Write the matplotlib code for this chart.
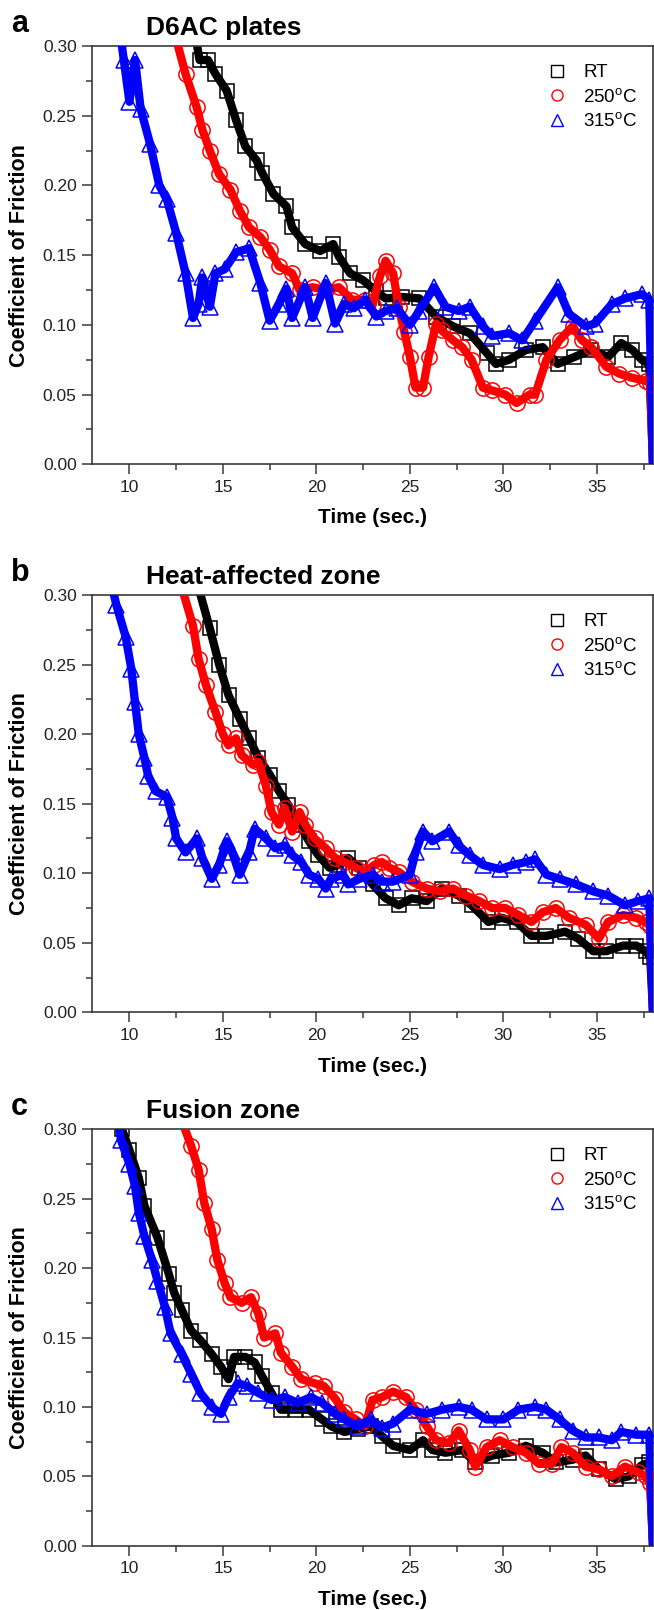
import matplotlib
matplotlib.use("Agg")
import matplotlib.pyplot as plt
import matplotlib.transforms as mtransforms
from matplotlib.ticker import MultipleLocator, FormatStrFormatter

plt.rcParams['font.family'] = ['Liberation Sans', 'DejaVu Sans']
plt.rcParams['mathtext.default'] = 'regular'

# ---- panel a : D6AC plates ----
a_rt_t = [13.5, 13.75, 14.2, 14.6, 15.2, 15.7, 16.2, 16.8, 17.1, 17.7, 18.4, 18.7, 19.4, 20.2, 20.9, 21.2,
          21.8, 22.5, 23.2, 23.7, 24.6, 25.5, 26.4, 27.3, 28.2, 29.1, 29.6, 30.3, 31.2, 32.1, 32.9, 33.8,
          34.7, 35.6, 36.3, 36.9, 37.4, 37.8, 38.0]
a_rt_y = [0.31, 0.29, 0.29, 0.28, 0.268, 0.247, 0.228, 0.218, 0.209, 0.194, 0.185, 0.17, 0.158, 0.153, 0.158,
          0.149, 0.137, 0.132, 0.124, 0.119, 0.12, 0.119, 0.106, 0.099, 0.094, 0.08, 0.072, 0.075, 0.082,
          0.084, 0.072, 0.077, 0.082, 0.077, 0.087, 0.082, 0.075, 0.072, 0.0]
a_250_t = [12.4, 13.0, 13.6, 13.9, 14.3, 14.8, 15.4, 15.9, 16.4, 17.0, 17.5, 18.0, 18.7, 19.1, 19.8, 20.5,
           21.2, 21.9, 22.6, 23.0, 23.4, 23.7, 24.1, 24.4, 24.7, 25.0, 25.3, 25.7, 26.0, 26.4, 26.7, 27.3,
           27.8, 28.3, 28.9, 29.4, 30.1, 30.7, 31.4, 31.7, 32.3, 33.0, 33.7, 34.2, 34.7, 35.5, 36.2, 36.9,
           37.6, 37.85, 38.0]
a_250_y = [0.31, 0.28, 0.256, 0.24, 0.225, 0.208, 0.197, 0.182, 0.17, 0.163, 0.154, 0.142, 0.137, 0.125,
           0.127, 0.125, 0.127, 0.118, 0.118, 0.114, 0.135, 0.146, 0.137, 0.113, 0.095, 0.077, 0.055, 0.055,
           0.077, 0.101, 0.096, 0.089, 0.084, 0.075, 0.055, 0.053, 0.05, 0.044, 0.05, 0.05, 0.075, 0.089,
           0.099, 0.089, 0.084, 0.07, 0.065, 0.062, 0.06, 0.058, 0.0]
a_315_t = [9.5, 9.7, 10.0, 10.3, 10.6, 11.1, 11.6, 12.0, 12.5, 13.0, 13.4, 13.7, 13.9, 14.3, 14.6, 15.1,
           15.7, 16.4, 17.0, 17.5, 18.0, 18.4, 18.7, 19.4, 19.8, 20.5, 21.0, 21.5, 22.0, 22.6, 23.2, 23.7,
           24.3, 25.0, 25.5, 26.3, 26.9, 27.6, 28.2, 28.9, 29.4, 30.3, 31.0, 31.7, 32.9, 33.5, 34.4, 34.9,
           35.8, 36.5, 37.4, 37.8, 38.0]
a_315_y = [0.31, 0.29, 0.26, 0.29, 0.255, 0.23, 0.20, 0.19, 0.166, 0.137, 0.105, 0.115, 0.134, 0.113, 0.137,
           0.14, 0.152, 0.155, 0.13, 0.103, 0.115, 0.126, 0.105, 0.127, 0.105, 0.13, 0.101, 0.115, 0.112,
           0.118, 0.106, 0.11, 0.112, 0.10, 0.11, 0.127, 0.113, 0.11, 0.113, 0.099, 0.092, 0.094, 0.089,
           0.103, 0.127, 0.108, 0.099, 0.101, 0.115, 0.119, 0.122, 0.118, 0.0]

# ---- panel b : heat-affected zone ----
b_rt_t = [13.6, 14.3, 14.8, 15.3, 15.9, 16.4, 16.9, 17.5, 18.0, 18.5, 19.1, 19.6, 20.1, 20.7, 21.2, 21.7,
          22.3, 23.0, 23.7, 24.4, 25.1, 25.9, 26.7, 27.6, 28.3, 29.2, 29.9, 30.7, 31.5, 32.3, 33.3, 34.0,
          34.8, 35.5, 36.4, 37.1, 37.6, 37.85, 38.0]
b_rt_y = [0.31, 0.276, 0.25, 0.228, 0.211, 0.197, 0.183, 0.171, 0.159, 0.149, 0.135, 0.123, 0.113, 0.104,
          0.106, 0.111, 0.104, 0.092, 0.082, 0.077, 0.082, 0.08, 0.089, 0.084, 0.077, 0.065, 0.068, 0.065,
          0.055, 0.055, 0.058, 0.053, 0.044, 0.044, 0.048, 0.048, 0.044, 0.04, 0.0]
b_250_t = [12.7, 13.4, 13.7, 14.1, 14.6, 15.0, 15.3, 15.7, 16.0, 16.6, 16.9, 17.3, 17.6, 18.0, 18.3, 18.7,
           19.1, 19.4, 19.9, 20.5, 21.0, 21.5, 22.1, 22.6, 23.1, 23.5, 23.9, 24.4, 25.1, 25.9, 26.6, 27.3,
           28.0, 28.7, 29.4, 30.1, 30.8, 31.5, 32.1, 32.8, 33.5, 34.4, 35.1, 35.6, 36.4, 37.1, 37.6, 37.85,
           38.0]
b_250_y = [0.31, 0.278, 0.254, 0.235, 0.216, 0.2, 0.192, 0.197, 0.185, 0.178, 0.18, 0.163, 0.144, 0.135,
           0.147, 0.13, 0.144, 0.135, 0.125, 0.118, 0.111, 0.108, 0.104, 0.101, 0.106, 0.108, 0.104, 0.101,
           0.094, 0.089, 0.087, 0.089, 0.084, 0.08, 0.075, 0.075, 0.07, 0.065, 0.072, 0.075, 0.068, 0.063,
           0.053, 0.065, 0.07, 0.068, 0.065, 0.062, 0.0]
b_315_t = [9.0, 9.3, 9.8, 10.1, 10.3, 10.5, 10.8, 11.0, 11.4, 12.0, 12.3, 12.5, 13.0, 13.6, 13.9, 14.4,
           14.8, 15.2, 15.5, 15.9, 16.4, 16.7, 17.3, 17.8, 18.3, 18.7, 19.2, 19.6, 20.1, 20.5, 20.8, 21.4,
           21.7, 22.3, 23.0, 23.5, 24.1, 25.0, 25.3, 25.7, 26.2, 27.1, 27.6, 28.2, 28.9, 29.8, 30.5, 31.2,
           31.7, 32.3, 33.0, 33.9, 34.8, 35.6, 36.5, 37.2, 37.8, 38.0]
b_315_y = [0.31, 0.293, 0.27, 0.247, 0.223, 0.2, 0.183, 0.17, 0.159, 0.155, 0.14, 0.125, 0.115, 0.125,
           0.111, 0.096, 0.106, 0.123, 0.115, 0.099, 0.115, 0.132, 0.125, 0.118, 0.12, 0.113, 0.108, 0.099,
           0.096, 0.089, 0.096, 0.099, 0.092, 0.096, 0.099, 0.094, 0.094, 0.099, 0.115, 0.13, 0.123, 0.13,
           0.12, 0.113, 0.106, 0.103, 0.106, 0.108, 0.11, 0.099, 0.096, 0.092, 0.087, 0.084, 0.077, 0.08,
           0.082, 0.0]

# ---- panel c : fusion zone ----
c_rt_t = [9.6, 10.0, 10.5, 10.8, 11.5, 12.1, 12.4, 12.8, 13.3, 13.8, 14.4, 14.9, 15.3, 15.6, 16.2, 16.7,
          17.1, 17.6, 18.1, 18.9, 19.6, 20.3, 20.8, 21.5, 22.2, 22.9, 23.5, 24.1, 25.0, 25.7, 26.2, 26.9,
          27.8, 28.5, 29.4, 30.3, 31.2, 32.1, 32.8, 33.7, 34.4, 35.1, 36.0, 36.7, 37.4, 37.8, 38.0]
c_rt_y = [0.30, 0.285, 0.265, 0.245, 0.222, 0.196, 0.182, 0.17, 0.155, 0.148, 0.138, 0.129, 0.12, 0.136,
          0.136, 0.132, 0.122, 0.11, 0.098, 0.098, 0.098, 0.091, 0.086, 0.082, 0.084, 0.086, 0.079, 0.072,
          0.069, 0.076, 0.069, 0.067, 0.069, 0.06, 0.065, 0.067, 0.072, 0.067, 0.06, 0.062, 0.065, 0.055,
          0.048, 0.05, 0.058, 0.06, 0.0]
c_250_t = [12.7, 13.3, 13.7, 14.0, 14.4, 14.7, 15.1, 15.4, 16.0, 16.5, 16.9, 17.2, 17.8, 18.1, 18.7, 19.2,
           19.9, 20.4, 21.0, 21.5, 22.1, 22.6, 23.0, 23.5, 24.1, 24.8, 25.3, 25.9, 26.4, 27.1, 27.6, 28.2,
           28.5, 29.1, 29.8, 30.5, 31.2, 31.9, 32.6, 33.1, 33.7, 34.4, 35.1, 35.8, 36.5, 37.2, 37.6, 37.85,
           38.0]
c_250_y = [0.31, 0.288, 0.271, 0.247, 0.228, 0.206, 0.189, 0.179, 0.175, 0.179, 0.167, 0.15, 0.153, 0.139,
           0.129, 0.12, 0.117, 0.115, 0.106, 0.096, 0.091, 0.086, 0.105, 0.107, 0.111, 0.107, 0.098, 0.086,
           0.076, 0.074, 0.083, 0.069, 0.057, 0.071, 0.076, 0.071, 0.067, 0.059, 0.059, 0.071, 0.067, 0.057,
           0.055, 0.05, 0.057, 0.053, 0.05, 0.045, 0.0]
c_315_t = [9.4, 9.55, 10.0, 10.3, 10.5, 10.8, 11.2, 11.5, 11.9, 12.2, 12.8, 13.3, 13.8, 14.4, 14.9, 15.3,
           15.8, 16.3, 16.9, 17.6, 18.3, 19.0, 19.7, 20.3, 21.0, 21.5, 22.2, 22.9, 23.5, 24.1, 25.0, 25.9,
           26.7, 27.6, 28.3, 29.1, 30.0, 30.8, 31.7, 32.3, 33.0, 33.7, 34.4, 35.1, 35.8, 36.3, 37.1, 37.8,
           38.0]
c_315_y = [0.31, 0.292, 0.275, 0.259, 0.24, 0.223, 0.206, 0.191, 0.172, 0.153, 0.138, 0.124, 0.11, 0.1,
           0.095, 0.107, 0.117, 0.115, 0.11, 0.105, 0.107, 0.103, 0.107, 0.103, 0.095, 0.091, 0.086, 0.091,
           0.085, 0.088, 0.098, 0.095, 0.098, 0.1, 0.098, 0.091, 0.091, 0.098, 0.1, 0.098, 0.091, 0.083,
           0.078, 0.078, 0.076, 0.082, 0.08, 0.08, 0.0]

letters = ['a', 'b', 'c']
titles = ['D6AC plates', 'Heat-affected zone', 'Fusion zone']
labels = ['RT', '250$^{o}$C', '315$^{o}$C']
colors = ['black', 'red', 'blue']
markers = ['s', 'o', '^']
msizes = [10, 11, 11]
panels = [
    [(a_rt_t, a_rt_y), (a_250_t, a_250_y), (a_315_t, a_315_y)],
    [(b_rt_t, b_rt_y), (b_250_t, b_250_y), (b_315_t, b_315_y)],
    [(c_rt_t, c_rt_y), (c_250_t, c_250_y), (c_315_t, c_315_y)],
]
# axes boxes [left, bottom, width, height] in figure fraction
boxes = [[0.1407, 0.7116, 0.8578, 0.2598],
         [0.1407, 0.3712, 0.8578, 0.2592],
         [0.1407, 0.0399, 0.8578, 0.2587]]

axcol = '#3a3a3a'
fig = plt.figure(figsize=(6.54, 16.10), dpi=100)

for i in range(3):
    ax = fig.add_axes(boxes[i])
    for j in range(3):
        t, y = panels[i][j]
        # solid band under the open symbols, last point is the drop to zero
        ax.plot(t, y, color=colors[j], lw=6, solid_joinstyle='round', zorder=2 + j)
        ax.plot(t, y, ls='none', marker=markers[j], ms=msizes[j], mfc='none', mec=colors[j], mew=1.1,
                markevery=slice(0, len(t) - 1), zorder=2 + j)
        ax.plot([], [], ls='none', marker=markers[j], ms=8, mfc='none', mec=colors[j], mew=1.0,
                label=labels[j])
    ax.set_xlim(8, 38)
    ax.set_ylim(0, 0.30)
    ax.xaxis.set_major_locator(MultipleLocator(5))
    ax.xaxis.set_minor_locator(MultipleLocator(2.5))
    ax.yaxis.set_major_locator(MultipleLocator(0.05))
    ax.yaxis.set_minor_locator(MultipleLocator(0.025))
    ax.yaxis.set_major_formatter(FormatStrFormatter('%.2f'))
    ax.tick_params(which='both', direction='out', color=axcol, width=1.1, labelsize=12.5,
                   labelcolor='#222222', top=False, right=False)
    ax.tick_params(which='major', length=7, pad=4)
    ax.tick_params(which='minor', length=4)
    for s in ax.spines.values():
        s.set_color(axcol)
        s.set_linewidth(1.2)
    ax.set_xlabel('Time (sec.)', fontsize=15, fontweight='bold', labelpad=10)
    ax.set_ylabel('Coefficient of Friction', fontsize=15.5, fontweight='bold', labelpad=9)
    ax.legend(loc='upper right', bbox_to_anchor=(0.985, 0.975), frameon=False, fontsize=13.5,
              handlelength=1.0, handletextpad=0.9, labelspacing=0.35, borderaxespad=0)
    trans = mtransforms.blended_transform_factory(fig.transFigure, ax.transAxes)
    ax.text(0.017, 1.0335, letters[i], transform=trans, fontsize=22, fontweight='bold', va='baseline')
    ax.text(0.2232, 1.026, titles[i], transform=trans, fontsize=19, fontweight='bold', va='baseline')

fig.savefig('out.png', dpi=100)
